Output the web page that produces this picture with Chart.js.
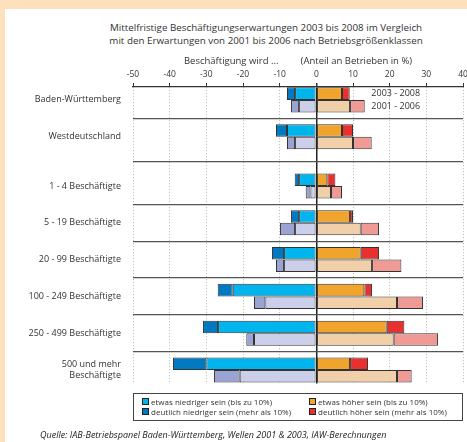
<!DOCTYPE html>
<html>
<head>
<meta charset="utf-8">
<script src="https://cdn.jsdelivr.net/npm/chart.js@4"></script>
<style>
  html, body { margin: 0; padding: 0; }
  body { width: 467px; height: 442px; overflow: hidden; background: #fde1bd; position: relative; font-family: 'Open Sans', sans-serif; color: #333; }
  .panel { position: absolute; left: 5px; top: 9px; right: 0; bottom: 0; background: #fff; }
  .title { position: absolute; left: 66px; width: 400px; top: 21px; text-align: center; font-size: 9.8px; line-height: 13px; color: #333; }
  #chart { position: absolute; left: 5px; top: 9px; }
  .legend { position: absolute; left: 133px; top: 393px; width: 328px; height: 26px; border: 1px solid #444; background: #fff; font-size: 8px; }
  .legend .item { position: absolute; white-space: nowrap; line-height: 10px; }
  .legend .sw { display: inline-block; width: 5px; height: 5px; border: 1px solid #222; margin-right: 2px; vertical-align: 0; }
  .source { position: absolute; left: 40px; top: 428px; font-size: 9px; font-style: italic; color: #222; white-space: nowrap; }
</style>
</head>
<body>
<div class="panel"></div>
<div class="title">Mittelfristige Beschäftigungserwartungen 2003 bis 2008 im Vergleich<br>mit den Erwartungen von 2001 bis 2006 nach Betriebsgrößenklassen</div>
<canvas id="chart" width="480" height="392"></canvas>
<div class="legend">
  <div class="item" style="left:8px;top:3px"><span class="sw" style="background:#00b4ee"></span>etwas niedriger sein (bis zu 10%)</div>
  <div class="item" style="left:8px;top:13px"><span class="sw" style="background:#0079c1"></span>deutlich niedriger sein (mehr als 10%)</div>
  <div class="item" style="left:175px;top:3px"><span class="sw" style="background:#f0a42c"></span>etwas höher sein (bis zu 10%)</div>
  <div class="item" style="left:175px;top:13px"><span class="sw" style="background:#e8312f"></span>deutlich höher sein (mehr als 10%)</div>
</div>
<div class="source">Quelle: IAB-Betriebspanel Baden-Württemberg, Wellen 2001 &amp; 2003, IAW-Berechnungen</div>
<script>
// Betriebsgrößenklassen (rows, top to bottom)
const categories = ['Baden-Württemberg', 'Westdeutschland', '1 - 4 Beschäftigte', '5 - 19 Beschäftigte',
  '20 - 99 Beschäftigte', '100 - 249 Beschäftigte', '250 - 499 Beschäftigte', ['500 und mehr', 'Beschäftigte']];

// Erwartungen 2003 - 2008 (Anteil an Betrieben in %)
const etwasNiedriger03 = [5.8, 8.0, 4.7, 4.7, 8.8, 22.8, 26.8, 30.0];
const deutlichNiedriger03 = [2.2, 3.0, 1.2, 2.2, 3.3, 4.1, 4.1, 9.1];
const etwasHoeher03 = [7.0, 7.0, 3.0, 9.2, 12.1, 13.1, 19.2, 9.2];
const deutlichHoeher03 = [2.1, 3.0, 2.2, 0.8, 5.0, 2.1, 4.8, 4.9];

// Erwartungen 2001 - 2006
const etwasNiedriger01 = [4.7, 5.8, 1.6, 5.8, 8.8, 13.9, 17.0, 20.9];
const deutlichNiedriger01 = [2.2, 2.2, 1.3, 4.1, 2.2, 3.1, 2.1, 7.0];
const etwasHoeher01 = [9.2, 10.0, 4.0, 12.1, 15.2, 22.0, 21.1, 22.0];
const deutlichHoeher01 = [4.0, 5.1, 3.0, 5.0, 8.0, 7.1, 12.1, 4.0];

const xTicks = [-50, -40, -30, -20, -10, 0, 10, 20, 30, 40];
const periods = ['2003 - 2008', '2001 - 2006'];

// the size classes sit a bit further down than the two regions
const groupGap = 0.34;
const rowPos = categories.map((c, i) => i < 2 ? i : i + groupGap);

function series(values, sign) {
  return values.map((v, i) => ({ x: sign * v, y: rowPos[i] }));
}

function bar(label, values, sign, color, stack) {
  return {
    label: label,
    data: series(values, sign),
    backgroundColor: color,
    borderColor: '#333',
    borderWidth: 1,
    borderSkipped: false,
    stack: stack,
    categoryPercentage: 0.68,
    barPercentage: 1
  };
}

const periodLabels = {
  id: 'periodLabels',
  afterDatasetsDraw(chart) {
    const ctx = chart.ctx;
    const x = chart.scales.x.getPixelForValue(15);
    ctx.save();
    ctx.font = '9px "Open Sans"';
    ctx.fillStyle = '#333';
    ctx.textAlign = 'left';
    ctx.textBaseline = 'middle';
    ctx.fillText(periods[0], x, chart.getDatasetMeta(0).data[0].y);
    ctx.fillText(periods[1], x, chart.getDatasetMeta(4).data[0].y);
    ctx.restore();
  }
};

new Chart(document.getElementById('chart'), {
  type: 'bar',
  data: {
    datasets: [
      bar('etwas niedriger sein (bis zu 10%)', etwasNiedriger03, -1, '#00b4ee', '2003'),
      bar('deutlich niedriger sein (mehr als 10%)', deutlichNiedriger03, -1, '#0079c1', '2003'),
      bar('etwas höher sein (bis zu 10%)', etwasHoeher03, 1, '#f0a42c', '2003'),
      bar('deutlich höher sein (mehr als 10%)', deutlichHoeher03, 1, '#e8312f', '2003'),
      bar('etwas niedriger sein (bis zu 10%)', etwasNiedriger01, -1, '#cbcfe9', '2001'),
      bar('deutlich niedriger sein (mehr als 10%)', deutlichNiedriger01, -1, '#9ba3d2', '2001'),
      bar('etwas höher sein (bis zu 10%)', etwasHoeher01, 1, '#f1cfa8', '2001'),
      bar('deutlich höher sein (mehr als 10%)', deutlichHoeher01, 1, '#ef9a94', '2001')
    ]
  },
  options: {
    indexAxis: 'y',
    responsive: false,
    animation: false,
    layout: { padding: { top: 47, right: 22, bottom: 8, left: 0 } },
    plugins: {
      legend: { display: false },
      tooltip: { enabled: false }
    },
    scales: {
      x: {
        type: 'linear',
        position: 'top',
        stacked: true,
        min: -50,
        max: 40,
        afterBuildTicks: s => { s.ticks = xTicks.map(v => ({ value: v })); },
        afterFit: s => { s.height = 31; },
        ticks: { color: '#333', font: { family: 'Open Sans', size: 8.5 }, padding: 3 },
        title: {
          display: true,
          text: 'Beschäftigung wird ...         (Anteil an Betrieben in %)',
          color: '#333',
          font: { family: 'Open Sans', size: 9.5 },
          padding: { top: 0, bottom: 0 }
        },
        grid: {
          color: c => c.tick && c.tick.value === 0 ? '#222' : '#b5b5b5',
          lineWidth: c => c.tick && c.tick.value === 0 ? 1.5 : 1,
          tickColor: '#333',
          tickLength: 4,
          tickBorderDash: []
        },
        border: {
          display: true,
          color: '#333',
          width: 1.2,
          dash: c => c.tick && c.tick.value === 0 ? [] : [1, 2]
        }
      },
      y: {
        type: 'linear',
        reverse: true,
        offset: false,
        min: -0.35,
        max: 7.71,
        afterBuildTicks: s => { s.ticks = rowPos.map(v => ({ value: v })); },
        afterFit: s => { s.width = 128; },
        ticks: {
          autoSkip: false,
          color: '#333',
          padding: 12,
          font: { family: 'Open Sans', size: 9 },
          callback: (v, i) => categories[i]
        },
        grid: { offset: true, color: '#555', lineWidth: 1.2, drawTicks: false },
        border: { display: false }
      }
    }
  },
  plugins: [periodLabels]
});
</script>
</body>
</html>
